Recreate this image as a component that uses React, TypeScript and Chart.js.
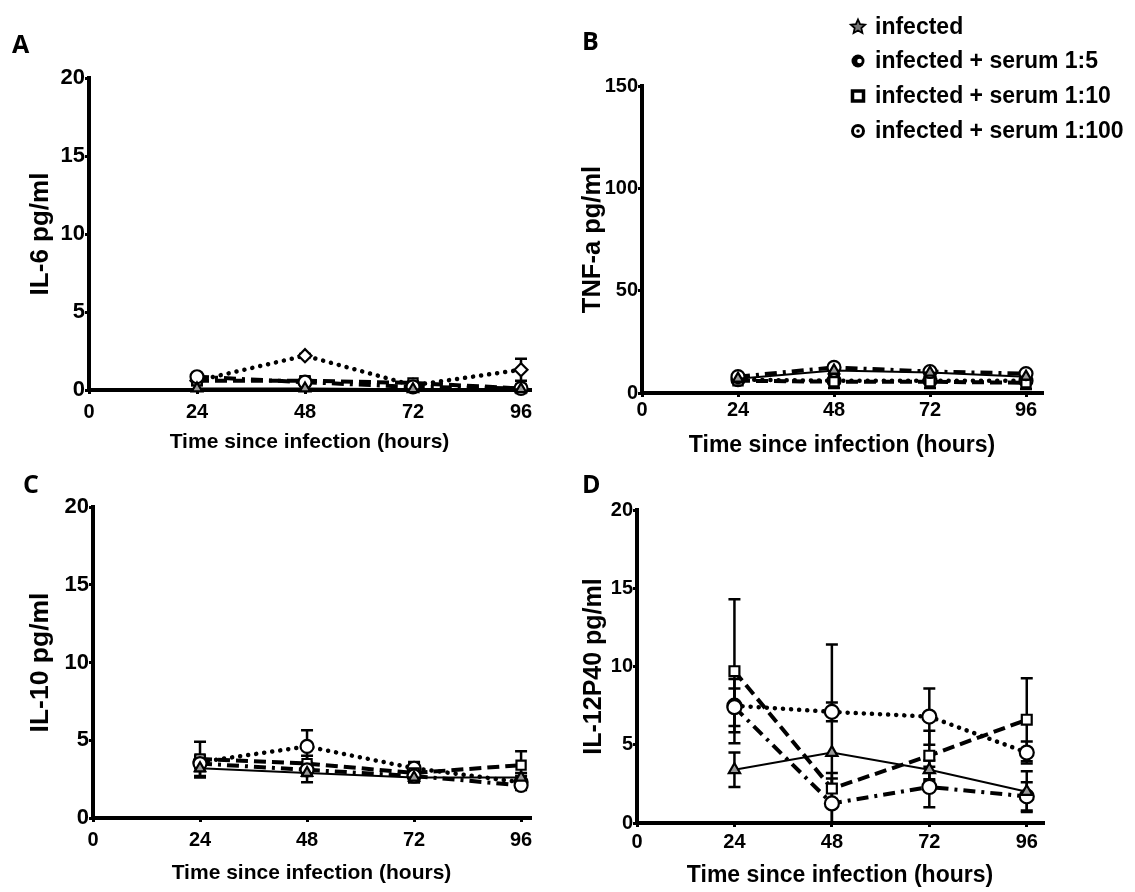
import React, { useEffect, useRef } from 'react';
import { Chart, registerables } from 'chart.js';

Chart.register(...registerables);

// ---------- data ----------
const hours = [24, 48, 72, 96];
const xTicks = [0, 24, 48, 72, 96];
const seriesLabels = [
  'infected',
  'infected + serum 1:5',
  'infected + serum 1:10',
  'infected + serum 1:100',
];
const xTitle = 'Time since infection (hours)';

// A: IL-6
const il6Infected = [0.1, 0.1, 0.05, 0.05];
const il6Serum5 = [0.85, 0.5, 0.2, 0.1];
const il6Serum10 = [0.6, 0.6, 0.45, 0.1];
const il6Serum100 = [0.6, 2.2, 0.3, 1.3];
const il6InfectedErr = [0.2, 0.2, 0.1, 0.1];
const il6Serum5Err = [0.2, 0.2, 0.1, 0.1];
const il6Serum10Err = [0.2, 0.2, 0.1, 0.1];
const il6Serum100Err = [0.1, 0.1, 0.1, 0.7];

// B: TNF-a
const tnfInfected = [7, 11, 10, 8];
const tnfSerum5 = [8, 12.5, 10.5, 9.5];
const tnfSerum10 = [6, 5.5, 5.5, 5];
const tnfSerum100 = [6.5, 6, 6, 6];
const tnfInfectedErr = [1, 2, 2, 2];
const tnfSerum5Err = [1, 1.5, 1, 1.5];
const tnfSerum10Err = [1, 3, 3, 3];
const tnfSerum100Err = [1, 1, 1, 1];

// C: IL-10
const il10Infected = [3.2, 2.9, 2.6, 2.6];
const il10Serum5 = [3.5, 3.1, 2.7, 2.1];
const il10Serum10 = [3.8, 3.5, 2.9, 3.4];
const il10Serum100 = [3.6, 4.6, 3.2, 2.3];
const il10InfectedErr = [0.6, 0.6, 0.3, 0.3];
const il10Serum5Err = [0.5, 0.4, 0.3, 0.3];
const il10Serum10Err = [1.1, 0.5, 0.6, 0.9];
const il10Serum100Err = [0.4, 1.05, 0.4, 0.4];

// D: IL-12P40
const il12Infected = [3.4, 4.5, 3.4, 2.0];
const il12Serum5 = [7.4, 1.25, 2.3, 1.7];
const il12Serum10 = [9.7, 2.2, 4.3, 6.6];
const il12Serum100 = [7.5, 7.1, 6.8, 4.5];
const il12InfectedErr = [1.1, 6.9, 0.6, 1.3];
const il12Serum5Err = [1.2, 1.6, 1.3, 0.9];
const il12Serum10Err = [4.6, 1.0, 1.6, 2.65];
const il12Serum100Err = [1.7, 0.6, 1.8, 0.7];

// ---------- styling / layout ----------
const FONT = "'Liberation Sans', Arial, Helvetica, sans-serif";
const LETTER_FONT = "'Open Sans', 'Liberation Sans', Arial, sans-serif";

const lineStyles = [
  { borderDash: [], borderWidth: 2, pointStyle: 'triangle', pointBackgroundColor: '#9a9a9a', borderCapStyle: 'butt' },
  { borderDash: [12, 6, 3, 6], borderWidth: 4, pointStyle: 'circle', pointBackgroundColor: '#fff', borderCapStyle: 'butt' },
  { borderDash: [12, 6], borderWidth: 4, pointStyle: 'rect', pointBackgroundColor: '#fff', borderCapStyle: 'butt' },
  { borderDash: [0.1, 8], borderWidth: 4.5, pointStyle: 'circle', pointBackgroundColor: '#fff', borderCapStyle: 'round' },
];

type PanelDef = {
  letter: string;
  yLabel: string;
  yMax: number;
  yStep: number;
  xMax: number;
  values: number[][];
  errors: number[][];
  left: number; top: number; w: number; h: number;
  area: { l: number; t: number; r: number; b: number };
  xTickSize: number; yTickSize: number; titleSize: number; yTitleSize: number;
  xTitleCenter: number; yTitleCenter: number; xTickPad: number;
  letterPos: [number, number];
  dottedMarker?: string;
  pointRadius: number;
  legend?: boolean;
};

const panels: PanelDef[] = [
  {
    letter: 'A', yLabel: 'IL-6 pg/ml', yMax: 20, yStep: 5, xMax: 98,
    values: [il6Infected, il6Serum5, il6Serum10, il6Serum100],
    errors: [il6InfectedErr, il6Serum5Err, il6Serum10Err, il6Serum100Err],
    left: 0, top: 0, w: 560, h: 462, area: { l: 89, t: 78, r: 530, b: 390 },
    xTickSize: 20, yTickSize: 22, titleSize: 21, yTitleSize: 26,
    xTitleCenter: 442, yTitleCenter: 41, xTickPad: 6,
    letterPos: [12, 53], dottedMarker: 'rectRot', pointRadius: 6.5,
  },
  {
    letter: 'B', yLabel: 'TNF-a pg/ml', yMax: 150, yStep: 50, xMax: 100,
    values: [tnfInfected, tnfSerum5, tnfSerum10, tnfSerum100],
    errors: [tnfInfectedErr, tnfSerum5Err, tnfSerum10Err, tnfSerum100Err],
    left: 560, top: 0, w: 575, h: 462, area: { l: 82, t: 86, r: 482, b: 393 },
    xTickSize: 20, yTickSize: 20, titleSize: 23, yTitleSize: 25.5,
    xTitleCenter: 446, yTitleCenter: 33, xTickPad: 1,
    letterPos: [22, 50], pointRadius: 6.5, legend: true,
  },
  {
    letter: 'C', yLabel: 'IL-10 pg/ml', yMax: 20, yStep: 5, xMax: 98,
    values: [il10Infected, il10Serum5, il10Serum10, il10Serum100],
    errors: [il10InfectedErr, il10Serum5Err, il10Serum10Err, il10Serum100Err],
    left: 0, top: 462, w: 560, h: 430, area: { l: 93, t: 45, r: 530, b: 356 },
    xTickSize: 20, yTickSize: 22, titleSize: 21, yTitleSize: 26.5,
    xTitleCenter: 873 - 462, yTitleCenter: 41, xTickPad: 6,
    letterPos: [23, 31], pointRadius: 6.5,
  },
  {
    letter: 'D', yLabel: 'IL-12P40 pg/ml', yMax: 20, yStep: 5, xMax: 100,
    values: [il12Infected, il12Serum5, il12Serum10, il12Serum100],
    errors: [il12InfectedErr, il12Serum5Err, il12Serum10Err, il12Serum100Err],
    left: 560, top: 462, w: 575, h: 430, area: { l: 77, t: 48, r: 483, b: 361 },
    xTickSize: 20, yTickSize: 20, titleSize: 23, yTitleSize: 25,
    xTitleCenter: 876 - 462, yTitleCenter: 34, xTickPad: 3,
    letterPos: [22, 31], pointRadius: 7,
  },
];

// ---------- plugins ----------
const errorBarPlugin = {
  id: 'errorBars',
  beforeDatasetsDraw(chart: any) {
    const ctx = chart.ctx;
    const xs = chart.scales.x;
    const ys = chart.scales.y;
    chart.data.datasets.forEach((ds: any) => {
      if (!ds.errors) return;
      ds.data.forEach((p: any, i: number) => {
        const e = ds.errors[i];
        if (!e) return;
        const px = xs.getPixelForValue(p.x);
        const hi = p.y + e;
        const lo = Math.max(p.y - e, ys.min);
        const yHi = ys.getPixelForValue(hi);
        const yLo = ys.getPixelForValue(lo);
        ctx.save();
        ctx.strokeStyle = '#000';
        ctx.lineWidth = 2.5;
        ctx.setLineDash([]);
        ctx.beginPath();
        ctx.moveTo(px, yHi);
        ctx.lineTo(px, yLo);
        ctx.moveTo(px - 6, yHi);
        ctx.lineTo(px + 6, yHi);
        if (p.y - e > ys.min) {
          ctx.moveTo(px - 6, yLo);
          ctx.lineTo(px + 6, yLo);
        }
        ctx.stroke();
        ctx.restore();
      });
    });
  },
};

function drawLegendMarker(ctx: CanvasRenderingContext2D, kind: number, x: number, y: number) {
  ctx.save();
  ctx.strokeStyle = '#000';
  ctx.fillStyle = '#000';
  if (kind === 0) {
    const R = 7.5, r = 3.5;
    ctx.beginPath();
    for (let k = 0; k < 10; k++) {
      const a = -Math.PI / 2 + (k * Math.PI) / 5;
      const rad = k % 2 === 0 ? R : r;
      const px = x + rad * Math.cos(a);
      const py = y + rad * Math.sin(a);
      if (k === 0) ctx.moveTo(px, py); else ctx.lineTo(px, py);
    }
    ctx.closePath();
    ctx.fillStyle = '#777';
    ctx.fill();
    ctx.lineWidth = 1.8;
    ctx.stroke();
  } else if (kind === 1) {
    ctx.beginPath();
    ctx.arc(x, y, 6.5, 0, Math.PI * 2);
    ctx.fill();
    ctx.fillStyle = '#fff';
    ctx.beginPath();
    ctx.arc(x + 1.5, y, 2.3, 0, Math.PI * 2);
    ctx.fill();
  } else if (kind === 2) {
    ctx.lineWidth = 3.5;
    ctx.strokeRect(x - 5.5, y - 5, 11, 10);
  } else {
    ctx.lineWidth = 3;
    ctx.beginPath();
    ctx.arc(x, y, 5.5, 0, Math.PI * 2);
    ctx.stroke();
    ctx.beginPath();
    ctx.arc(x, y, 1.8, 0, Math.PI * 2);
    ctx.fill();
  }
  ctx.restore();
}

const panelTextPlugin = {
  id: 'panelText',
  afterDraw(chart: any, _args: any, opts: any) {
    const ctx = chart.ctx;
    ctx.save();
    ctx.fillStyle = '#000';
    ctx.font = `bold 25px ${LETTER_FONT}`;
    ctx.textAlign = 'left';
    ctx.textBaseline = 'alphabetic';
    ctx.fillText(opts.letter, opts.letterX, opts.letterY);
    if (opts.legend) {
      const rowsY = [27, 61, 96, 131];
      ctx.font = `bold 23px ${FONT}`;
      ctx.textBaseline = 'middle';
      chart.data.datasets.forEach((ds: any, i: number) => {
        drawLegendMarker(ctx, i, 298, rowsY[i]);
        ctx.fillStyle = '#000';
        ctx.fillText(ds.label, 315, rowsY[i] + 1);
      });
    }
    ctx.restore();
  },
};

function buildConfig(p: PanelDef): any {
  const xTickFont = { family: FONT, size: p.xTickSize, weight: 'bold' as const };
  const yTickFont = { family: FONT, size: p.yTickSize, weight: 'bold' as const };
  const titleFont = { family: FONT, size: p.titleSize, weight: 'bold' as const };
  const yTitleFont = { family: FONT, size: p.yTitleSize, weight: 'bold' as const };
  const xTitlePadBottom = p.h - p.xTitleCenter - (p.titleSize * 1.2) / 2;
  const yTitlePadTop = p.yTitleCenter - (p.yTitleSize * 1.2) / 2;
  const xH = p.h - p.area.b;
  const yW = p.area.l;

  const datasets = p.values.map((vals, si) => {
    const st: any = { ...lineStyles[si] };
    if (si === 3 && p.dottedMarker) st.pointStyle = p.dottedMarker;
    return {
      label: seriesLabels[si],
      data: hours.map((h, i) => ({ x: h, y: vals[i] })),
      errors: p.errors[si],
      borderColor: '#000',
      pointBorderColor: '#000',
      pointBorderWidth: 2.2,
      pointRadius: si === 0 ? p.pointRadius - 0.5 : p.pointRadius,
      pointHoverRadius: p.pointRadius,
      fill: false,
      tension: 0,
      clip: false,
      ...st,
    };
  });

  const gridOpts = {
    display: true,
    drawOnChartArea: false,
    drawTicks: true,
    tickLength: 4,
    lineWidth: 3,
    color: '#000',
  };

  return {
    type: 'line',
    data: { datasets },
    options: {
      responsive: false,
      animation: false,
      devicePixelRatio: 1,
      layout: { padding: { top: p.area.t, right: p.w - p.area.r, left: 0, bottom: 0 } },
      plugins: {
        legend: { display: false },
        tooltip: { enabled: false },
        panelText: {
          letter: p.letter,
          letterX: p.letterPos[0],
          letterY: p.letterPos[1],
          legend: !!p.legend,
        },
      },
      scales: {
        x: {
          type: 'linear',
          min: 0,
          max: p.xMax,
          afterBuildTicks: (s: any) => {
            s.ticks = xTicks.map((v) => ({ value: v }));
          },
          afterFit: (s: any) => {
            s.height = xH;
          },
          border: { display: true, width: 4, color: '#000' },
          grid: gridOpts,
          ticks: { color: '#000', font: xTickFont, padding: p.xTickPad, maxRotation: 0, autoSkip: false },
          title: {
            display: true,
            text: xTitle,
            color: '#000',
            font: titleFont,
            padding: { top: 0, bottom: xTitlePadBottom },
          },
        },
        y: {
          type: 'linear',
          min: 0,
          max: p.yMax,
          afterFit: (s: any) => {
            s.width = yW;
          },
          border: { display: true, width: 4, color: '#000' },
          grid: gridOpts,
          ticks: { color: '#000', font: yTickFont, padding: 0, stepSize: p.yStep },
          title: {
            display: true,
            text: p.yLabel,
            color: '#000',
            font: yTitleFont,
            padding: { top: yTitlePadTop, bottom: 0 },
          },
        },
      },
    },
    plugins: [errorBarPlugin, panelTextPlugin],
  };
}

function PanelChart({ p }: { p: PanelDef }) {
  const ref = useRef<HTMLCanvasElement>(null);
  useEffect(() => {
    if (!ref.current) return;
    const chart = new Chart(ref.current, buildConfig(p));
    return () => chart.destroy();
  }, [p]);
  return (
    <canvas
      ref={ref}
      width={p.w}
      height={p.h}
      style={{ position: 'absolute', left: p.left, top: p.top, width: p.w, height: p.h }}
    />
  );
}

export default function App() {
  return (
    <div
      style={{
        position: 'fixed',
        left: 0,
        top: 0,
        width: 1135,
        height: 892,
        background: '#fff',
        overflow: 'hidden',
      }}
    >
      {panels.map((p) => (
        <PanelChart key={p.letter} p={p} />
      ))}
    </div>
  );
}
